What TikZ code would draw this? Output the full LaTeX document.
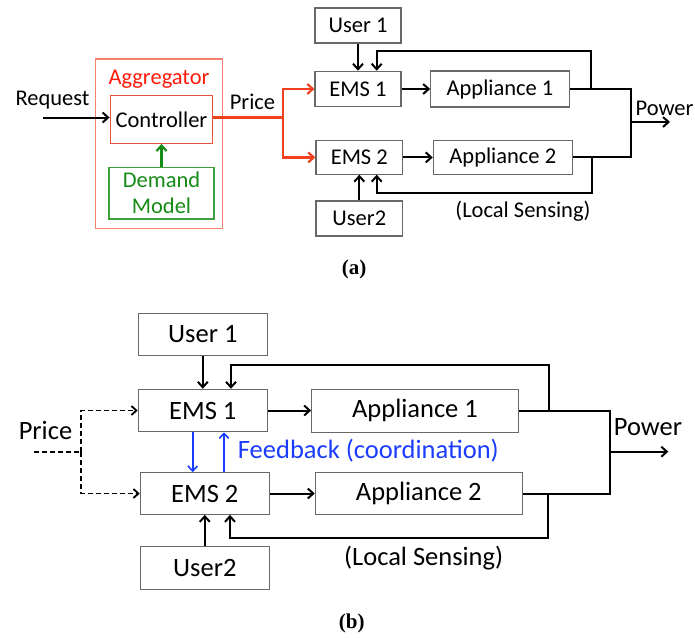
\documentclass[tikz,border=0pt]{standalone}
\usepackage{fontspec}
\setmainfont{Carlito}
\newfontfamily\capfont{Liberation Serif}
\usetikzlibrary{arrows.meta}
\definecolor{boxgray}{HTML}{686868}
\definecolor{aggred}{HTML}{F4806E}
\definecolor{ctrlred}{HTML}{E8503A}
\definecolor{pricered}{HTML}{F0401E}
\definecolor{txtred}{HTML}{FF1A0A}
\definecolor{dmgreen}{HTML}{3CA03C}
\definecolor{txtgreen}{HTML}{168C16}
\definecolor{fbblue}{HTML}{1A3CFF}
\begin{document}
\begin{tikzpicture}[x=1pt,y=-1pt,
  fa/.style={font=\fontsize{22.5}{26}\selectfont},
  fb/.style={font=\fontsize{26.5}{30}\selectfont},
  blk/.style={draw=boxgray, line width=1.1pt, fill=white, inner sep=0pt, align=center},
  tipa/.style={-{Straight Barb[length=5.5pt,width=10pt]}},
  conn/.style={line width=2pt, tipa},
  wire/.style={line width=2pt},
  pwire/.style={line width=2.2pt, draw=pricered},
  parrow/.style={line width=2.2pt, draw=pricered, tipa},
  garrow/.style={line width=2.2pt, draw=txtgreen, tipa},
  barrow/.style={line width=1.6pt, draw=fbblue, -{Straight Barb[length=5pt,width=9.5pt]}},
  dwire/.style={line width=1.8pt, dash pattern=on 5pt off 3pt},
  darrow/.style={line width=1.8pt, dash pattern=on 5pt off 3pt, -{Straight Barb[length=5pt,width=9pt]}},
  captxt/.style={font=\capfont\bfseries\fontsize{21}{24}\selectfont}
]
\useasboundingbox (0,0) rectangle (695,637);

% ---------------- (a) ----------------
\node[draw=aggred, line width=1.4pt, minimum width=127pt, minimum height=169.7pt] (agg) at (159.2,143.9) {};
\node[fa, text=txtred] (agglbl) at (159,79) {Aggregator};
\node[blk, draw=ctrlred, line width=1.2pt, fa, minimum width=102.6pt, minimum height=47.6pt] (ctrl) at (161.5,119.5) {Controller};
\node[blk, draw=dmgreen, line width=1.2pt, text=txtgreen, fa, minimum width=105pt, minimum height=51.7pt] (dm) at (161.5,193.2) {Demand\\Model};

\node[blk, fa, minimum width=86pt, minimum height=35pt] (user1a) at (358,25.5) {User 1};
\node[blk, fa, minimum width=86pt, minimum height=35.5pt] (ems1a) at (358,89) {EMS 1};
\node[blk, fa, minimum width=138.6pt, minimum height=36pt] (app1a) at (500,89) {Appliance 1};
\node[blk, fa, minimum width=86.7pt, minimum height=33.5pt] (ems2a) at (359.3,157.4) {EMS 2};
\node[blk, fa, minimum width=139pt, minimum height=34pt] (app2a) at (502.8,157.4) {Appliance 2};
\node[blk, fa, minimum width=86.7pt, minimum height=35pt] (user2a) at (359.3,218.5) {User2};

\node[fa] (reqlbl) at (52.5,100.5) {Request};
\node[fa] (pricelbl) at (252.5,101.7) {Price};
\node[fa] (powlbl) at (664.5,108) {Power};
\node[fa] (lslbl) at (523,211.7) {(Local Sensing)};
\node[captxt] (capa) at (354,269) {(a)};

\coordinate (reqs) at (43,117.5);
\coordinate (pj) at (282.7,117.5);
\coordinate (pwra) at (631,122);
\coordinate (pwraend) at (670,122);
\coordinate (fba) at (590.7,51);
\coordinate (lsa) at (591.7,193.3);

\draw[conn] (reqs) -- (ctrl.west |- reqs);
\draw[pwire] (ctrl.east |- pj) -- (pj);
\draw[parrow] (pj) |- (ems1a.west);
\draw[parrow] (pj) |- (ems2a.west);
\draw[garrow] (dm.north) -- (ctrl.south);
\draw[conn] (user1a) -- (ems1a);
\draw[conn] (user2a) -- (ems2a);
\draw[conn] (ems1a.east) -- (app1a.west |- ems1a.east);
\draw[conn] (ems2a.east) -- (app2a.west |- ems2a.east);
\draw[wire] (app1a.east) -| (pwra);
\draw[wire] (app2a.east) -| (pwra);
\draw[conn] (pwra) -- (pwraend);
\draw[conn] (fba |- app1a.east) -- (fba) -| ([xshift=18.7pt]ems1a.north);
\draw[conn] (lsa |- app2a.east) -- (lsa) -| ([xshift=17.4pt]ems2a.south);

% ---------------- (b) ----------------
\node[blk, fb, minimum width=129pt, minimum height=41.7pt] (user1b) at (202.8,334.2) {User 1};
\node[blk, fb, minimum width=129pt, minimum height=42.4pt] (ems1b) at (202.8,410.5) {EMS 1};
\node[blk, fb, minimum width=206.6pt, minimum height=43pt] (app1b) at (415,410.8) {Appliance 1};
\node[blk, fb, minimum width=129pt, minimum height=41.6pt] (ems2b) at (204.8,493.5) {EMS 2};
\node[blk, fb, minimum width=207pt, minimum height=42pt] (app2b) at (418.8,493.6) {Appliance 2};
\node[blk, fb, minimum width=129pt, minimum height=42.3pt] (user2b) at (204.8,567.9) {User2};

\node[fb] (priceblbl) at (45.5,430) {Price};
\node[fb, text=fbblue, anchor=west, inner sep=0pt] (fblbl) at (237.7,451) {Feedback (coordination)};
\node[fb] (powblbl) at (648,427.5) {Power};
\node[fb] (lsblbl) at (423.7,558.5) {(Local Sensing)};
\node[captxt] (capb) at (351.7,623) {(b)};

\coordinate (pbs) at (34.3,452);
\coordinate (pbj) at (81,452);
\coordinate (pwrb) at (610,451.7);
\coordinate (pwrbend) at (668.3,451.7);
\coordinate (fbb) at (549.3,365);
\coordinate (lsb) at (548.3,537.7);

\draw[dwire] (pbs) -- (pbj);
\draw[darrow] (pbj) |- (ems1b.west);
\draw[darrow] (pbj) |- (ems2b.west);
\draw[conn] (user1b) -- (ems1b);
\draw[conn] (user2b) -- (ems2b);
\draw[conn] (ems1b.east) -- (app1b.west |- ems1b.east);
\draw[conn] (ems2b.east) -- (app2b.west |- ems2b.east);
\draw[barrow] ([xshift=-10.1pt]ems1b.south) -- ([xshift=-12.1pt]ems2b.north);
\draw[barrow] ([xshift=19.2pt]ems2b.north) -- ([xshift=21.2pt]ems1b.south);
\draw[wire] (app1b.east) -| (pwrb);
\draw[wire] (app2b.east) -| (pwrb);
\draw[conn] (pwrb) -- (pwrbend);
\draw[conn] (fbb |- app1b.east) -- (fbb) -| ([xshift=28.2pt]ems1b.north);
\draw[conn] (lsb |- app2b.east) -- (lsb) -| ([xshift=25.2pt]ems2b.south);
\end{tikzpicture}
\end{document}
